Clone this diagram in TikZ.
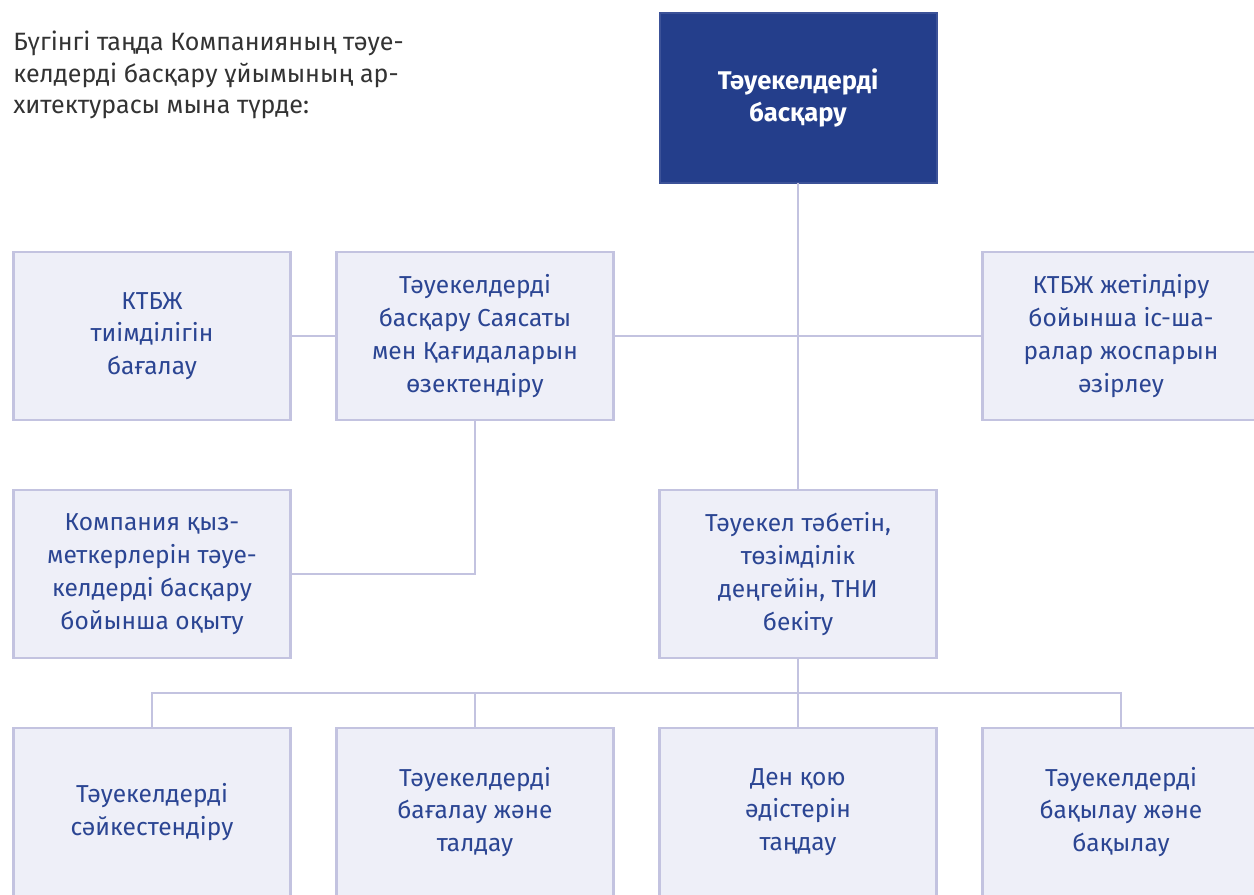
\documentclass[tikz,border=0pt]{standalone}
\usepackage{fontspec}
\setmainfont{Fira Sans}
\definecolor{lineC}{HTML}{C3C3E0}
\definecolor{boxF}{HTML}{EEEFF8}
\definecolor{darkF}{HTML}{243E8B}
\definecolor{txtB}{HTML}{2B4593}
\definecolor{txtG}{HTML}{333333}
\begin{document}
\begin{tikzpicture}[x=0.75pt,y=-0.75pt,
  box/.style={draw=lineC, fill=boxF, line width=2.2pt, minimum width=207.75pt, minimum height=126pt,
    inner sep=0pt, outer sep=0pt, align=center, text=txtB,
    font=\fontsize{18.4pt}{24.6pt}\selectfont},
  topbox/.style={draw=darkF!85!lineC, fill=darkF, line width=1.5pt, minimum width=207.75pt, minimum height=127.5pt,
    inner sep=0pt, outer sep=0pt, align=center, text=white,
    font=\fontsize{19.2pt}{23.6pt}\selectfont\bfseries},
  conn/.style={draw=lineC, line width=2.2pt}]
\useasboundingbox[fill=white] (0,0) rectangle (1254,895);
\begin{scope}
\clip (0,0) rectangle (1254,895);
\node[anchor=north west, inner sep=0pt, align=left, text=txtG,
  font=\fontsize{18.8pt}{23.6pt}\selectfont] (intro) at (13,31)
  {Бүгінгі таңда Компанияның тәуе-\\келдерді басқару ұйымының ар-\\хитектурасы мына түрде:};
\node[topbox] (top) at (798,98) {Тәуекелдерді\\басқару};
\node[box] (kpi) at (152,336) {КТБЖ\\тиімділігін\\бағалау};
\node[box] (pol) at (475,336) {Тәуекелдерді\\басқару Саясаты\\мен Қағидаларын\\өзектендіру};
\node[box] (plan) at (1121,336) {КТБЖ жетілдіру\\бойынша іс-ша-\\ралар жоспарын\\әзірлеу};
\node[box] (train) at (152,574) {Компания қыз-\\меткерлерін тәуе-\\келдерді басқару\\бойынша оқыту};
\node[box] (app) at (798,574) {Тәуекел тәбетін,\\төзімділік\\деңгейін, ТНИ\\бекіту};
\node[box] (b1) at (152,812) {Тәуекелдерді\\сәйкестендіру};
\node[box] (b2) at (475,812) {Тәуекелдерді\\бағалау және\\талдау};
\node[box] (b3) at (798,812) {Ден қою\\әдістерін\\таңдау};
\node[box] (b4) at (1121,812) {Тәуекелдерді\\бақылау және\\бақылау};
\coordinate (bus) at (798,693);
\draw[conn] (top.south) -- (app.north);
\draw[conn] (kpi.east) -- (pol.west);
\draw[conn] (pol.east) -- (plan.west);
\draw[conn] (pol.south) |- (train.east);
\draw[conn] (app.south) -- (bus);
\draw[conn] (b1.north) -- (b1.north |- bus) -- (b4.north |- bus) -- (b4.north);
\draw[conn] (b2.north) -- (b2.north |- bus);
\draw[conn] (bus) -- (b3.north);
\end{scope}
\end{tikzpicture}
\end{document}
